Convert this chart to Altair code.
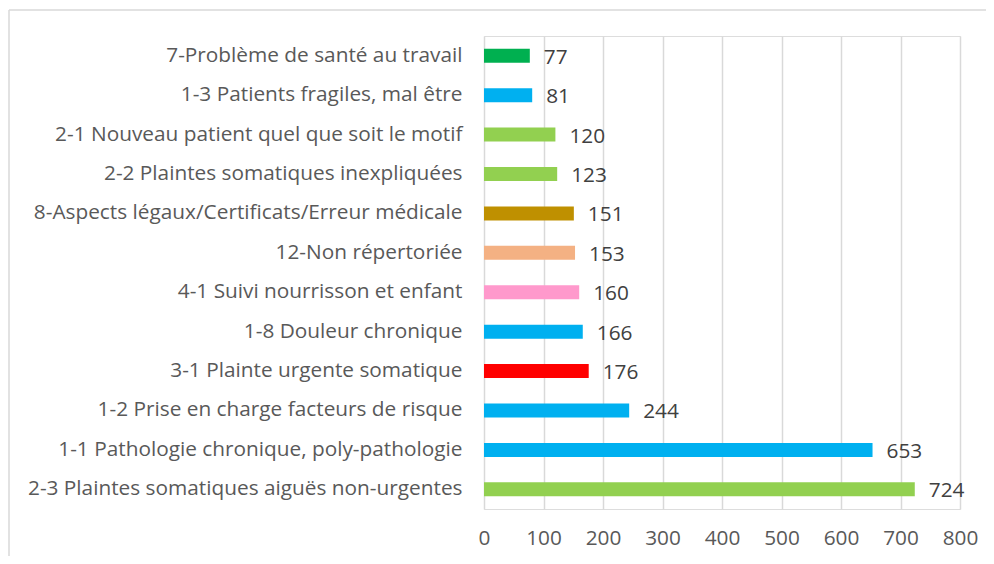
import altair as alt
import pandas as pd

categories = [
    "7-Problème de santé au travail",
    "1-3 Patients fragiles, mal être",
    "2-1 Nouveau patient quel que soit le motif",
    "2-2 Plaintes somatiques inexpliquées",
    "8-Aspects légaux/Certificats/Erreur médicale",
    "12-Non répertoriée",
    "4-1 Suivi nourrisson et enfant",
    "1-8 Douleur chronique",
    "3-1 Plainte urgente somatique",
    "1-2 Prise en charge facteurs de risque",
    "1-1 Pathologie chronique, poly-pathologie",
    "2-3 Plaintes somatiques aiguës non-urgentes",
]
values = [77, 81, 120, 123, 151, 153, 160, 166, 176, 244, 653, 724]
colors = ["#00B050", "#00B0F0", "#92D050", "#92D050", "#BF9000", "#F4B183",
          "#FF99CC", "#00B0F0", "#FF0000", "#00B0F0", "#00B0F0", "#92D050"]
x_ticks = [0, 100, 200, 300, 400, 500, 600, 700, 800]

df = pd.DataFrame({"cat": categories, "val": values, "col": colors})

W, H = 476, 473
FONT = "Open Sans"
FS = 20.8
GREY = "#595959"

y_enc = alt.Y("cat:N", sort=categories, title=None,
              scale=alt.Scale(paddingInner=0, paddingOuter=0),
              axis=alt.Axis(labelFont=FONT, labelFontSize=FS, labelColor=GREY,
                            ticks=False, domain=False, labelPadding=22,
                            labelLimit=600))
x_enc = alt.X("val:Q", title=None,
              scale=alt.Scale(domain=[0, 800], nice=False),
              axis=alt.Axis(values=x_ticks, labelFont=FONT, labelFontSize=FS,
                            labelColor=GREY, ticks=False, domain=False,
                            grid=True, gridColor="#d9d9d9", gridWidth=1.5,
                            labelPadding=19, labelFlush=False))

bars = alt.Chart(df).mark_bar(size=14).encode(
    x=x_enc, y=y_enc, color=alt.Color("col:N", scale=None))

labels = alt.Chart(df).mark_text(
    align="left", baseline="middle", dx=14, dy=2,
    font=FONT, fontSize=FS, color="#404040").encode(
    x="val:Q", y=alt.Y("cat:N", sort=categories), text="val:Q")

one = pd.DataFrame({"a": [0]})
top_line = alt.Chart(one).mark_rule(stroke="#d9d9d9", strokeWidth=1.5).encode(
    x=alt.value(-475), x2=alt.value(W + 30), y=alt.value(-26))
left_line = alt.Chart(one).mark_rule(stroke="#d9d9d9", strokeWidth=1.5).encode(
    x=alt.value(-475), y=alt.value(-26), y2=alt.value(H + 50))

chart = alt.layer(top_line, left_line, bars, labels).properties(
    width=W, height=H,
    autosize=alt.AutoSizeParams(type="none"),
    padding={"left": 476, "top": 28, "right": 26, "bottom": 47},
).configure_view(stroke=None).configure(background="white")

chart.save("out.html", embed_options={"renderer": "svg", "actions": False})
